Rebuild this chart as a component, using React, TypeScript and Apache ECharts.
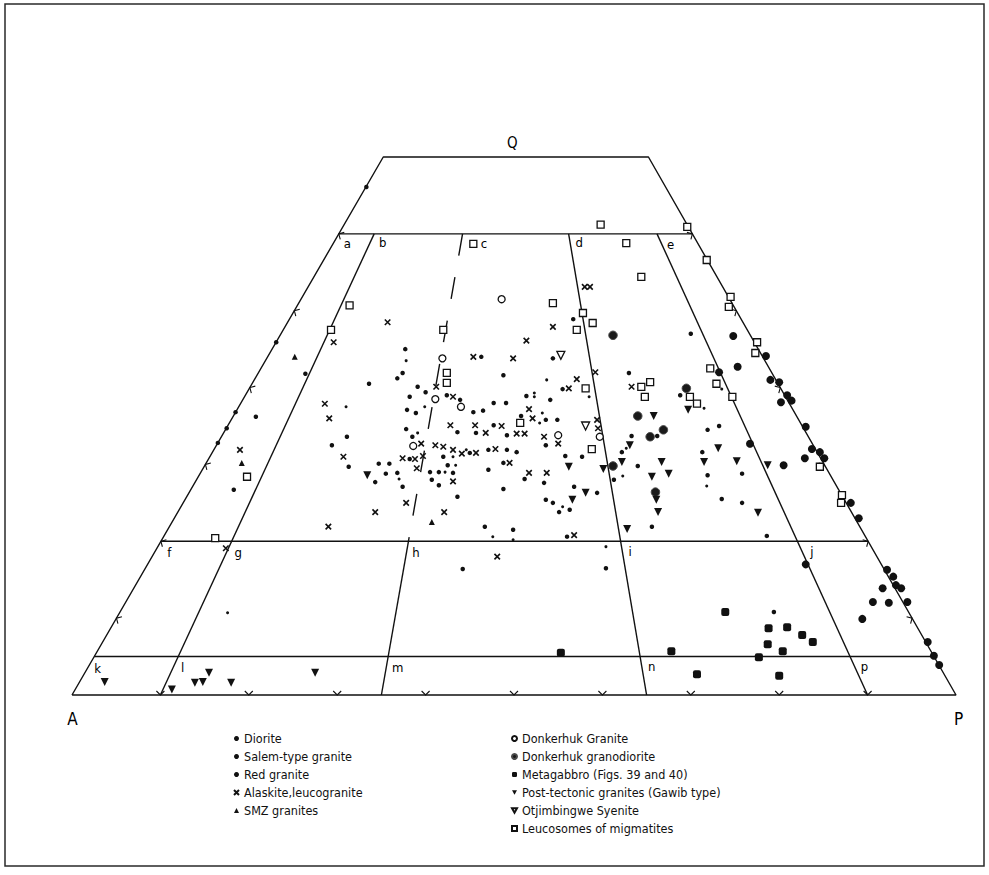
import { useEffect, useRef } from "react";
import * as echarts from "echarts";

// QAP (Streckeisen) trapezoid: x = horizontal position on the A–P base (0–100), y = Q %
const APEX_X = 50.3; // where the Q apex sits above the A–P base
const Q_TOP = 70; // the diagram is cut off at this Q
const Q_LEVELS = [60, 20, 5];
const P_RATIOS = [10, 35, 65, 90]; // P/(A+P) %, field boundaries
const EDGE_TICKS_Q = [10, 20, 30, 40, 50, 60];
const BASE_TICKS_P = [10, 20, 30, 40, 50, 60, 70, 80, 90];
const FIELD_ROWS = [
  { q: 60, letters: ["a", "b", "c", "d", "e"] },
  { q: 20, letters: ["f", "g", "h", "i", "j"] },
  { q: 5, letters: ["k", "l", "m", "n", "p"] },
];
const FIELD_RATIOS = [0, 10, 35, 65, 90];

// Samples, [x, Q]
const diorite = [
  [74.8, 46.7], [78.5, 44.1], [75.3, 42.7], [73.2, 42.0], [79.0, 41.0], [80.0, 40.7], [80.9, 39.0],
  [81.4, 38.3], [80.2, 38.1], [76.7, 32.7], [80.5, 29.9], [83.0, 34.9], [83.7, 32.0], [84.6, 31.6],
  [85.1, 30.8], [82.9, 30.8], [88.1, 25.0], [89.0, 23.0], [83.0, 17.0], [92.2, 16.3], [92.9, 15.4],
  [93.2, 14.3], [93.8, 13.9], [94.5, 12.1], [91.7, 13.9], [90.6, 12.1], [92.4, 12.0], [89.4, 9.9],
  [96.8, 6.9], [97.5, 5.1], [98.1, 3.9],
];
const salemGranite = [
  [37.8, 43.5], [39.9, 37.5], [52.3, 39.3], [52.3, 38.8], [53.2, 36.7], [52.9, 35.4], [53.7, 41.0],
  [58.5, 38.8], [71.5, 37.3], [73.5, 39.8], [31.0, 37.5], [39.1, 34.1], [44.6, 31.9], [43.1, 31.0],
  [42.2, 29.0], [43.4, 29.9], [55.5, 24.5], [37.0, 28.1], [47.6, 20.6], [49.9, 20.2], [60.4, 19.3],
  [62.7, 32.1], [62.3, 28.5], [71.8, 27.2], [17.6, 10.7],
];
const redGranite = [
  [33.3, 66.1], [23.1, 45.9], [18.5, 36.8], [17.5, 34.7], [16.5, 32.8], [37.7, 45.0], [37.4, 41.9],
  [36.8, 41.2], [26.4, 41.8], [33.6, 40.5], [46.3, 44.0], [48.8, 41.6], [39.1, 40.1], [40.0, 39.4],
  [38.2, 38.8], [42.4, 39.0], [43.9, 38.4], [37.9, 37.1], [38.9, 36.7], [45.4, 36.8], [46.5, 37.0],
  [47.7, 38.0], [49.1, 38.0], [51.4, 38.9], [54.1, 38.4], [50.8, 36.3], [53.6, 35.8], [54.9, 35.8],
  [54.4, 43.8], [55.5, 39.8], [56.7, 48.9], [70.0, 47.0], [63.0, 41.9], [68.8, 39.0], [20.8, 36.2],
  [31.1, 33.6], [29.4, 32.5], [31.3, 29.7], [18.3, 26.7], [37.8, 34.6], [38.5, 33.6], [43.6, 34.2],
  [45.7, 34.1], [47.7, 35.1], [49.2, 33.8], [38.2, 30.7], [47.1, 31.9], [49.2, 31.9], [50.3, 31.6],
  [53.6, 32.5], [55.8, 31.1], [57.7, 31.0], [42.0, 31.0], [45.0, 31.5], [40.5, 29.0], [41.5, 29.0],
  [43.1, 28.9], [42.5, 29.9], [40.7, 28.0], [41.5, 27.3], [47.1, 29.3], [48.8, 30.2], [51.2, 28.1],
  [53.4, 27.6], [48.8, 26.8], [56.8, 27.1], [59.4, 26.3], [53.6, 25.4], [54.4, 25.0], [55.1, 23.8],
  [56.3, 24.1], [34.3, 27.7], [34.7, 30.1], [35.9, 30.1], [35.5, 28.8], [36.8, 28.9], [37.4, 27.1],
  [43.6, 25.8], [46.7, 21.9], [49.9, 21.5], [56.0, 20.6], [44.2, 16.4], [60.4, 16.5], [63.3, 33.7],
  [66.2, 33.7], [62.2, 31.6], [61.3, 28.0], [64.0, 29.8], [65.6, 21.9], [71.9, 34.5], [73.2, 35.0],
  [71.3, 31.6], [71.9, 28.6], [75.8, 28.8], [73.5, 25.5], [75.8, 25.0], [78.6, 20.7], [79.4, 10.8],
];
const alaskite = [
  [58.0, 53.1], [58.6, 53.1], [35.7, 48.5], [29.6, 45.9], [54.4, 47.9], [51.4, 46.1], [45.4, 44.0],
  [49.9, 43.8], [57.1, 41.1], [59.2, 42.0], [63.3, 40.1], [56.2, 39.9], [41.2, 40.1], [43.1, 38.8],
  [28.6, 37.9], [29.1, 36.0], [51.7, 37.2], [52.1, 36.0], [42.8, 35.1], [45.6, 35.1], [48.6, 35.0],
  [46.8, 34.1], [50.3, 34.0], [51.2, 34.0], [53.4, 33.6], [59.4, 35.8], [59.5, 34.7], [39.5, 32.7],
  [41.1, 32.5], [42.0, 32.3], [43.1, 31.9], [44.1, 31.4], [45.7, 31.5], [47.9, 32.0], [55.0, 32.7],
  [37.4, 30.8], [38.8, 30.7], [39.7, 31.1], [39.0, 29.5], [43.1, 27.8], [49.5, 30.2], [51.7, 28.9],
  [53.7, 28.9], [19.0, 31.9], [30.7, 31.0], [34.3, 23.8], [37.8, 25.0], [42.1, 23.8], [29.0, 21.9],
  [17.4, 19.1], [48.1, 18.0], [56.8, 20.8],
];
const smzGranites = [[25.2, 44.0], [19.2, 30.2], [40.7, 22.5]];
const donkerhukGranite = [
  [48.6, 51.5], [41.9, 43.8], [41.1, 38.5], [44.0, 37.5], [38.6, 32.4], [55.0, 33.8], [59.7, 33.6],
];
const donkerhukGranodiorite = [
  [61.2, 46.8], [69.5, 39.9], [64.0, 36.3], [65.4, 33.6], [66.9, 34.5], [66.0, 26.4], [61.2, 29.8],
];
const metagabbro = [
  [73.9, 10.8], [78.8, 8.7], [80.9, 8.8], [82.6, 7.8], [83.8, 6.9], [78.7, 6.6], [80.4, 5.7],
  [77.7, 4.9], [67.8, 5.7], [55.3, 5.5], [70.7, 2.7], [80.0, 2.5],
];
const postTectonic = [
  [33.4, 28.6], [56.2, 29.7], [60.1, 29.4], [58.1, 26.3], [56.6, 25.4], [69.7, 37.1], [65.8, 36.3],
  [63.1, 32.5], [62.2, 30.3], [66.7, 30.3], [65.6, 28.4], [67.5, 28.8], [66.1, 25.4], [66.3, 23.8],
  [62.8, 21.6], [73.1, 32.1], [71.5, 30.3], [75.2, 30.4], [78.7, 29.9], [77.6, 23.7], [3.7, 1.7],
  [11.3, 0.7], [13.9, 1.6], [14.8, 1.7], [15.5, 2.9], [18.0, 1.6], [27.5, 2.9],
];
const otjimbingweSyenite = [[55.3, 44.2], [58.1, 35.0]];
const leucosomes = [
  [59.8, 61.2], [69.6, 60.9], [62.7, 58.8], [45.4, 58.7], [71.8, 56.6], [64.4, 54.4], [74.5, 51.8],
  [74.3, 50.5], [31.4, 50.7], [54.4, 51.0], [57.8, 49.7], [58.9, 48.4], [57.1, 47.5], [29.3, 47.5],
  [42.0, 47.5], [77.5, 45.9], [77.3, 44.5], [42.4, 41.9], [42.4, 40.6], [72.2, 42.5], [72.9, 40.5],
  [58.1, 39.9], [64.4, 40.1], [65.4, 40.7], [64.8, 38.8], [69.9, 38.8], [70.7, 37.9], [74.7, 38.8],
  [50.7, 35.4], [58.8, 32.0], [19.8, 28.4], [84.6, 29.7], [87.1, 26.0], [87.0, 25.0], [16.2, 20.4],
];

const LEGEND_LEFT = ["Diorite", "Salem-type granite", "Red granite", "Alaskite,leucogranite", "SMZ granites"];
const LEGEND_RIGHT = [
  "Donkerhuk Granite",
  "Donkerhuk granodiorite",
  "Metagabbro (Figs. 39 and 40)",
  "Post-tectonic granites (Gawib type)",
  "Otjimbingwe Syenite",
  "Leucosomes of migmatites",
];

const FONT = "'DejaVu Sans Condensed', 'Liberation Sans Narrow', 'DejaVu Sans', sans-serif";
const INK = "#111111";

// letter label offsets in px from the boundary crossing they name
const LETTER_OFFSET: Record<string, number[]> = {
  a: [9, 10], b: [9, 9], c: [22, 10], d: [11, 9], e: [14, 11],
  f: [9, 12], g: [7, 12], h: [8, 12], i: [10, 11], j: [15, 11],
  k: [4, 12], l: [5, 11], m: [10, 11], n: [12, 10], p: [15, 10],
};

// ternary (P/(A+P) %, Q %) -> plot coordinates
const proj = (r: number, q: number) => [r * (1 - q / 100) + (APEX_X * q) / 100, q];

const CROSS = "path://M0,0L10,10M10,0L0,10";
const CHEVRON = "path://M0,0L5,5L10,0M5,10";
const DOWN_TRIANGLE = "path://M0,0L10,0L5,9Z";

function boundary(data: number[][], dashed = false) {
  return {
    type: "line",
    data,
    symbol: "none",
    silent: true,
    clip: false,
    z: 2,
    lineStyle: { color: INK, width: 1.4, type: dashed ? [22, 22] : "solid" },
  };
}

function sampleSeries(name: string, data: number[][], symbol: string, size: number, itemStyle: any) {
  return {
    type: "scatter",
    name,
    data,
    symbol,
    symbolSize: size,
    itemStyle: { opacity: 1, ...itemStyle },
    clip: false,
    z: 5,
  };
}

function letterLabel(extra: any) {
  return {
    show: true,
    align: "center",
    verticalAlign: "middle",
    fontSize: 13,
    fontFamily: FONT,
    color: "#000000",
    opacity: 1,
    textBorderWidth: 0,
    textBorderColor: "transparent",
    ...extra,
  };
}

function buildOption() {
  const lines: any[] = [];
  lines.push(boundary([proj(0, 0), proj(0, Q_TOP), proj(100, Q_TOP), proj(100, 0), proj(0, 0)]));
  Q_LEVELS.forEach((q) => lines.push(boundary([proj(0, q), proj(100, q)])));
  P_RATIOS.forEach((r) => {
    if (r === 35) {
      lines.push(boundary([proj(r, 60), proj(r, 20)], true));
      lines.push(boundary([proj(r, 20), proj(r, 0)]));
    } else {
      lines.push(boundary([proj(r, 60), proj(r, 0)]));
    }
  });

  const ticks = [
    ...EDGE_TICKS_Q.map((q) => ({ value: proj(0, q), symbolRotate: -120 })),
    ...EDGE_TICKS_Q.map((q) => ({ value: proj(100, q), symbolRotate: 120 })),
    ...BASE_TICKS_P.map((r) => ({ value: proj(r, 0), symbolRotate: 0 })),
  ];

  const letterItems: any[] = [];
  FIELD_ROWS.forEach((row) =>
    row.letters.forEach((ch, i) => {
      letterItems.push({
        value: proj(FIELD_RATIOS[i], row.q),
        name: ch,
        label: letterLabel({ position: LETTER_OFFSET[ch], formatter: ch }),
      });
    })
  );
  letterItems.push({ value: proj(50, Q_TOP), name: "Q", label: letterLabel({ position: [-3, -14], fontSize: 15, formatter: "Q" }) });
  letterItems.push({ value: proj(0, 0), name: "A", label: letterLabel({ position: [1, 24], fontSize: 17, formatter: "A" }) });
  letterItems.push({ value: proj(100, 0), name: "P", label: letterLabel({ position: [3, 24], fontSize: 17, formatter: "P" }) });

  const filled = { color: "#111111" };
  const open = { color: "#ffffff", borderColor: INK, borderWidth: 1.3 };

  const legendCommon = {
    orient: "vertical",
    top: 727,
    itemWidth: 5,
    itemHeight: 5,
    itemGap: 5,
    selectedMode: false,
    textStyle: { fontSize: 12.5, color: INK, fontFamily: FONT },
  };

  return {
    animation: false,
    backgroundColor: "#ffffff",
    grid: { left: 72, top: 157, width: 884, height: 538 },
    xAxis: { type: "value", min: 0, max: 100, show: false },
    yAxis: { type: "value", min: 0, max: Q_TOP, show: false },
    legend: [
      { ...legendCommon, left: 228, data: LEGEND_LEFT },
      { ...legendCommon, left: 506, data: LEGEND_RIGHT },
    ],
    graphic: [
      {
        type: "rect",
        silent: true,
        shape: { x: 5, y: 4, width: 979, height: 862 },
        style: { fill: "none", stroke: "#2a2a2a", lineWidth: 1.5 },
      },
    ],
    series: [
      ...lines,
      {
        type: "scatter",
        data: ticks,
        symbol: CHEVRON,
        symbolSize: 8,
        silent: true,
        clip: false,
        z: 3,
        itemStyle: { color: "rgba(0,0,0,0)", borderColor: INK, borderWidth: 1.1, opacity: 1 },
      },
      {
        type: "scatter",
        data: letterItems,
        symbolSize: 1,
        silent: true,
        clip: false,
        z: 4,
        itemStyle: { color: "rgba(255,255,255,0)", opacity: 1 },
        label: letterLabel({}),
      },
      sampleSeries("Diorite", diorite, "circle", 8, filled),
      sampleSeries("Salem-type granite", salemGranite, "circle", 3, filled),
      sampleSeries("Red granite", redGranite, "circle", 4.5, filled),
      sampleSeries("Alaskite,leucogranite", alaskite, CROSS, 5.5, { color: INK, borderColor: INK, borderWidth: 1.6 }),
      sampleSeries("SMZ granites", smzGranites, "triangle", 6, filled),
      sampleSeries("Donkerhuk Granite", donkerhukGranite, "circle", 7, open),
      sampleSeries("Donkerhuk granodiorite", donkerhukGranodiorite, "circle", 8.5, { color: "#1a1a1a", borderColor: "#4a4a4a", borderWidth: 1 }),
      sampleSeries("Metagabbro (Figs. 39 and 40)", metagabbro, "roundRect", 8, filled),
      sampleSeries("Post-tectonic granites (Gawib type)", postTectonic, DOWN_TRIANGLE, 8, filled),
      sampleSeries("Otjimbingwe Syenite", otjimbingweSyenite, DOWN_TRIANGLE, 8, open),
      sampleSeries("Leucosomes of migmatites", leucosomes, "rect", 7, open),
    ],
  };
}

export default function App() {
  const ref = useRef<HTMLDivElement>(null);
  useEffect(() => {
    if (!ref.current) return;
    const chart = echarts.init(ref.current, undefined, { renderer: "svg" });
    chart.setOption(buildOption() as any);
    return () => chart.dispose();
  }, []);
  return (
    <div
      ref={ref}
      style={{ position: "fixed", left: 0, top: 0, width: 989, height: 875, background: "#fff" }}
    />
  );
}
